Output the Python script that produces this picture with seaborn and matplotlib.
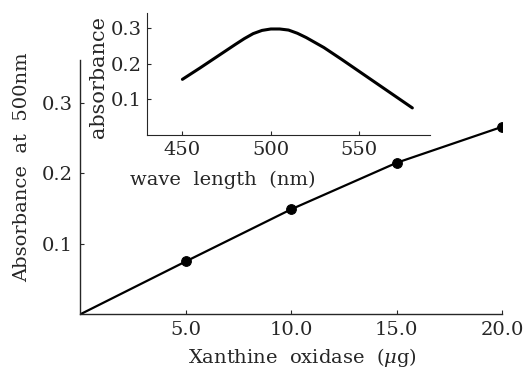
import matplotlib
matplotlib.use("Agg")
import matplotlib.pyplot as plt
import seaborn as sns

# Main data
enzyme_ug = [0, 5, 10, 15, 20]
absorbance_500 = [0.0, 0.075, 0.149, 0.215, 0.266]

# Inset data (absorption spectrum)
wavelength_nm = [450, 460, 470, 480, 485, 490, 495, 500, 505, 510, 515, 520, 525, 530,
                 540, 550, 560, 570, 580]
absorbance_spec = [0.156, 0.188, 0.221, 0.254, 0.270, 0.284, 0.293, 0.297, 0.297, 0.294,
                   0.285, 0.273, 0.259, 0.245, 0.212, 0.178, 0.144, 0.110, 0.076]

main_xticks = [5, 10, 15, 20]
main_xticklabels = ["5.0", "10.0", "15.0", "20.0"]
main_yticks = [0.1, 0.2, 0.3]
inset_xticks = [450, 500, 550]
inset_yticks = [0.1, 0.2, 0.3]

sns.set_style("ticks")
plt.rcParams["font.family"] = ["DejaVu Serif"]
plt.rcParams["mathtext.fontset"] = "dejavuserif"

fig = plt.figure(figsize=(5.27, 3.69), dpi=100)
ax = fig.add_axes([0.152, 0.148, 0.801, 0.69])

sns.lineplot(x=enzyme_ug, y=absorbance_500, ax=ax, color="black", linewidth=1.6,
             marker="o", markersize=7, markevery=[1, 2, 3, 4], markeredgecolor="black")
ax.set_xlim(0, 20)
ax.set_ylim(0, 0.361)
ax.set_xticks(main_xticks)
ax.set_xticklabels(main_xticklabels)
ax.set_yticks(main_yticks)
ax.tick_params(direction="in", length=3, width=0.8, labelsize=14, pad=5)
for s in ["top", "right"]:
    ax.spines[s].set_visible(False)
for s in ["left", "bottom"]:
    ax.spines[s].set_linewidth(1.0)
ax.set_xlabel(r"Xanthine  oxidase  ($\mu$g)", fontsize=14)
ax.xaxis.label.set_va("center")
ax.xaxis.set_label_coords(0.526, -0.171)
ax.set_ylabel("Absorbance  at  500nm", fontsize=14)
ax.yaxis.label.set_va("center")
ax.yaxis.set_label_coords(-0.137, 0.58)

ins = fig.add_axes([0.279, 0.634, 0.537, 0.331])
sns.lineplot(x=wavelength_nm, y=absorbance_spec, ax=ins, color="black", linewidth=2.2)
ins.set_xlim(430, 590)
ins.set_ylim(0, 0.342)
ins.set_xticks(inset_xticks)
ins.set_yticks(inset_yticks)
ins.tick_params(direction="in", length=3, width=0.8, labelsize=14, pad=4)
for s in ["top", "right"]:
    ins.spines[s].set_visible(False)
ins.patch.set_alpha(0)
ins.set_xlabel("wave  length  (nm)", fontsize=14)
ins.xaxis.label.set_va("center")
ins.xaxis.set_label_coords(0.267, -0.369)
ins.set_ylabel("absorbance", fontsize=15)
ins.yaxis.label.set_va("center")
ins.yaxis.set_label_coords(-0.171, 0.475)

fig.savefig("out.png", dpi=100)
